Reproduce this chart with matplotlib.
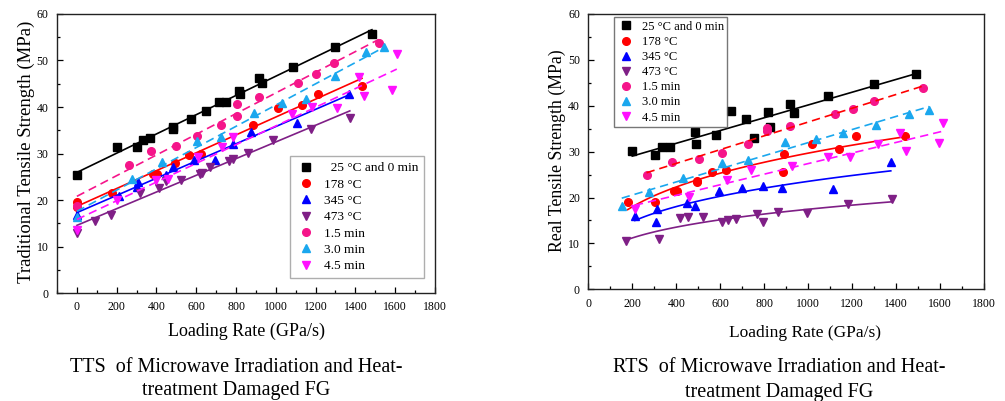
import numpy as np
import matplotlib
matplotlib.use("Agg")
import matplotlib.pyplot as plt
from matplotlib.ticker import MultipleLocator

plt.rcParams['font.family'] = ['Liberation Serif', 'DejaVu Serif']
plt.rcParams['mathtext.fontset'] = 'stix'

labels = ["  25 \u00b0C and 0 min", "178 \u00b0C", "345 \u00b0C", "473 \u00b0C", "1.5 min", "3.0 min", "4.5 min"]
labels_r = ["25 \u00b0C and 0 min", "178 \u00b0C", "345 \u00b0C", "473 \u00b0C", "1.5 min", "3.0 min", "4.5 min"]

# ---- Traditional tensile strength (left) ----
tts_x_25 = [0, 200, 300, 333, 370, 483, 483, 575, 647, 712, 750, 813, 820, 913, 930, 1087, 1297, 1483]
tts_y_25 = [25.4, 31.5, 31.5, 32.9, 33.4, 35.8, 35.3, 37.4, 39.2, 41.0, 41.0, 43.4, 42.7, 46.2, 45.1, 48.5, 53.0, 55.8]
tts_x_178 = [0, 0, 178, 383, 403, 492, 562, 622, 887, 1010, 1133, 1210, 1433]
tts_y_178 = [19.5, 18.6, 21.5, 25.6, 25.6, 27.9, 29.7, 29.9, 36.1, 39.7, 40.4, 42.9, 44.5]
tts_x_345 = [0, 212, 308, 300, 447, 483, 588, 692, 787, 875, 1108, 1367]
tts_y_345 = [16.8, 20.8, 23.8, 22.7, 25.4, 27.2, 28.6, 28.6, 32.1, 34.6, 36.6, 42.9]
tts_x_473 = [0, 92, 170, 317, 413, 450, 522, 617, 630, 670, 763, 783, 858, 987, 1175, 1372]
tts_y_473 = [12.9, 15.4, 16.8, 21.6, 22.5, 24.0, 24.2, 25.6, 25.9, 27.0, 28.3, 28.8, 30.2, 32.8, 35.2, 37.7]
tts_x_15 = [0, 262, 375, 497, 603, 722, 803, 807, 917, 1113, 1200, 1292, 1517]
tts_y_15 = [18.8, 27.6, 30.6, 31.6, 33.8, 36.1, 38.1, 40.6, 42.2, 45.2, 47.1, 49.5, 53.8]
tts_x_30 = [0, 275, 430, 603, 722, 892, 1030, 1150, 1300, 1455, 1542]
tts_y_30 = [16.3, 24.6, 28.1, 32.6, 33.5, 38.7, 40.9, 41.7, 46.7, 51.9, 53.0]
tts_x_45 = [0, 200, 400, 457, 610, 732, 783, 1083, 1183, 1308, 1417, 1442, 1583, 1608]
tts_y_45 = [13.6, 20.0, 24.2, 24.5, 29.2, 31.5, 33.5, 38.6, 40.1, 39.7, 46.5, 42.4, 43.7, 51.4]

# ---- Real tensile strength (right) ----
rts_x_25 = [200, 305, 334, 372, 485, 490, 579, 649, 717, 754, 819, 826, 917, 936, 1092, 1300, 1489]
rts_y_25 = [30.2, 29.3, 31.1, 31.1, 34.3, 31.7, 33.6, 38.9, 37.1, 33.0, 38.6, 35.4, 40.3, 38.5, 42.2, 44.7, 46.9]
rts_x_178 = [179, 305, 390, 402, 494, 494, 564, 626, 884, 890, 1016, 1139, 1218, 1441]
rts_y_178 = [19.1, 19.1, 21.4, 21.5, 23.7, 23.4, 25.6, 26.0, 25.6, 29.4, 31.6, 30.6, 33.3, 33.4]
rts_x_345 = [212, 311, 308, 450, 485, 594, 698, 793, 880, 1115, 1376]
rts_y_345 = [16.0, 17.4, 14.7, 18.7, 18.2, 21.4, 22.1, 22.6, 22.1, 21.9, 27.7]
rts_x_473 = [170, 323, 417, 452, 523, 610, 634, 672, 769, 796, 864, 993, 1183, 1380]
rts_y_473 = [10.6, 10.9, 15.6, 15.8, 15.8, 14.7, 15.1, 15.3, 16.4, 14.7, 16.9, 16.6, 18.6, 19.6]
rts_x_15 = [265, 381, 503, 608, 728, 811, 811, 918, 1122, 1206, 1301, 1524]
rts_y_15 = [24.8, 27.8, 28.4, 29.8, 31.7, 34.5, 35.1, 35.6, 38.2, 39.3, 41.0, 43.8]
rts_x_30 = [152, 278, 432, 607, 728, 895, 1036, 1160, 1307, 1460, 1551]
rts_y_30 = [18.2, 21.3, 24.3, 27.6, 28.2, 32.2, 32.7, 34.0, 35.8, 38.3, 39.1]
rts_x_45 = [212, 460, 629, 740, 925, 1092, 1190, 1316, 1418, 1445, 1597, 1615]
rts_y_45 = [17.4, 20.2, 23.8, 26.1, 26.8, 28.9, 28.9, 31.7, 34.0, 30.2, 31.8, 36.3]

colors = ["#000000", "#FF0000", "#0000FF", "#7F1F86", "#F5158A", "#1AA7EE", "#FF10FF"]
markers = ["s", "o", "^", "v", "o", "^", "v"]
tts_ls = ["-", "-", "-", "-", "--", "--", "--"]
rts_ls = ["-", "-", "-", "-", "--", "--", "--"]
rts_linecol = ["#000000", "#FF0000", "#0000FF", "#7F1F86", "#FF0000", "#1AA7EE", "#FF10FF"]
rts_fit = ["lin", "pow", "pow", "pow", "lin", "lin", "lin"]

tts = [(tts_x_25, tts_y_25), (tts_x_178, tts_y_178), (tts_x_345, tts_y_345), (tts_x_473, tts_y_473),
       (tts_x_15, tts_y_15), (tts_x_30, tts_y_30), (tts_x_45, tts_y_45)]
rts = [(rts_x_25, rts_y_25), (rts_x_178, rts_y_178), (rts_x_345, rts_y_345), (rts_x_473, rts_y_473),
       (rts_x_15, rts_y_15), (rts_x_30, rts_y_30), (rts_x_45, rts_y_45)]

fig = plt.figure(figsize=(10.05, 4.01), dpi=100)
axL = fig.add_axes([0.0567, 0.2693, 0.3761, 0.6958])
axR = fig.add_axes([0.5854, 0.2786, 0.3937, 0.6865])


def style(ax):
    ax.set_xlim(-100 if ax is axL else 0, 1800)
    ax.set_ylim(0, 60)
    ax.xaxis.set_major_locator(MultipleLocator(200))
    ax.xaxis.set_minor_locator(MultipleLocator(100))
    ax.yaxis.set_major_locator(MultipleLocator(10))
    ax.yaxis.set_minor_locator(MultipleLocator(5))
    ax.tick_params(which='both', direction='in', top=False, right=False, labelsize=8.5, pad=6)
    ax.tick_params(which='major', length=4, width=0.9)
    ax.tick_params(which='minor', length=2.5, width=0.9)
    for s in ax.spines.values():
        s.set_linewidth(1.0)
        s.set_color('#222222')


style(axL)
style(axR)

for i, (x, y) in enumerate(tts):
    x = np.asarray(x, float); y = np.asarray(y, float)
    axL.plot(x, y, linestyle='none', marker=markers[i], color=colors[i], markersize=5.5, label=labels[i])
    p = np.polyfit(x, y, 1)
    xx = np.linspace(x.min(), x.max(), 50)
    if tts_ls[i] == '--':
        axL.plot(xx, np.polyval(p, xx), color=colors[i], lw=1.2, dashes=(5, 3))
    else:
        axL.plot(xx, np.polyval(p, xx), color=colors[i], lw=1.2)

for i, (x, y) in enumerate(rts):
    x = np.asarray(x, float); y = np.asarray(y, float)
    axR.plot(x, y, linestyle='none', marker=markers[i], color=colors[i], markersize=5.5, label=labels_r[i])
    xx = np.linspace(x.min(), x.max(), 80)
    if rts_fit[i] == 'lin':
        p = np.polyfit(x, y, 1)
        yy = np.polyval(p, xx)
    else:
        p = np.polyfit(np.log(x), np.log(y), 1)
        yy = np.exp(np.polyval(p, np.log(xx)))
    if rts_ls[i] == '--':
        axR.plot(xx, yy, color=rts_linecol[i], lw=1.2, dashes=(5, 3))
    else:
        axR.plot(xx, yy, color=rts_linecol[i], lw=1.2)

legL = axL.legend(loc='upper left', bbox_to_anchor=(0.616, 0.491), frameon=True, fancybox=False,
                  edgecolor='#9a9a9a', fontsize=9.6, labelspacing=0.3, handletextpad=0.6,
                  handlelength=1.5, borderpad=0.45, borderaxespad=0)
legL.get_frame().set_linewidth(1.0)
legR = axR.legend(loc='upper left', bbox_to_anchor=(0.065, 0.989), frameon=True, fancybox=False,
                  edgecolor='#555555', fontsize=9, labelspacing=0.25, handletextpad=0.6,
                  handlelength=1.3, borderpad=0.3, borderaxespad=0)
legR.get_frame().set_linewidth(1.0)

fig.text(26 / 1005, 1 - 152 / 401, "Traditional Tensile Strength (MPa)", rotation=90,
         ha='center', va='center', fontsize=13.5)
fig.text(557 / 1005, 1 - 151 / 401, "Real Tensile Strength (MPa)", rotation=90,
         ha='center', va='center', fontsize=12.8)
fig.text(246 / 1005, 1 - 331 / 401, "Loading Rate (GPa/s)", ha='center', va='center', fontsize=13)
fig.text(805 / 1005, 1 - 333 / 401, "Loading Rate (GPa/s)", ha='center', va='center', fontsize=12.5)
fig.text(236 / 1005, 1 - 368 / 401, "TTS  of Microwave Irradiation and Heat-", ha='center', va='center', fontsize=14.5)
fig.text(236 / 1005, 1 - 391 / 401, "treatment Damaged FG", ha='center', va='center', fontsize=14.5)
fig.text(779 / 1005, 1 - 368 / 401, "RTS  of Microwave Irradiation and Heat-", ha='center', va='center', fontsize=14.5)
fig.text(779 / 1005, 1 - 392 / 401, "treatment Damaged FG", ha='center', va='center', fontsize=14.5)

fig.savefig("out.png", dpi=100)
